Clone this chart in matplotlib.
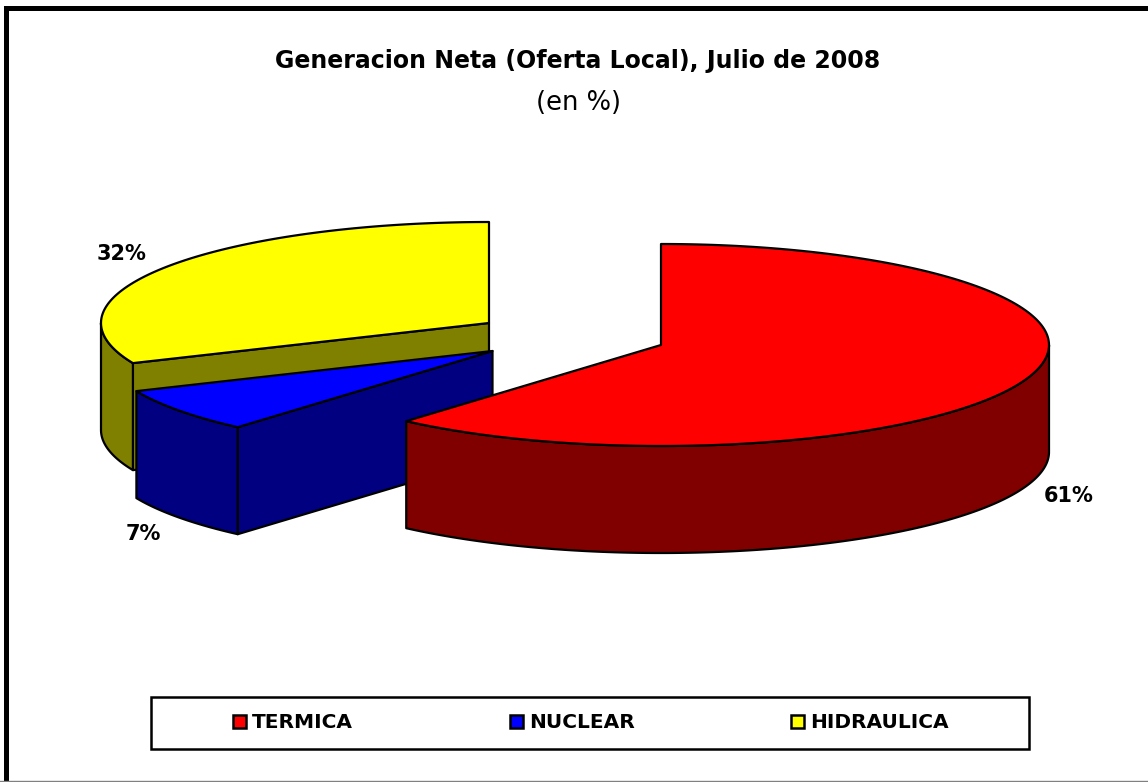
import numpy as np
import matplotlib
matplotlib.use('Agg')
import matplotlib.pyplot as plt
from matplotlib.patches import Polygon, Rectangle

categories = ['TERMICA', 'NUCLEAR', 'HIDRAULICA']
values = [61.4, 7.1, 31.5]
top_colors = ['#ff0000', '#0000ff', '#ffff00']
side_colors = ['#800000', '#000080', '#808000']

# pie geometry, in pixels of the 1148x782 picture
centers = [(661, 345), (492.5, 351), (489, 323)]
rx, ry, depth = 388, 101, 107
label_pos = [(1069, 496), (143, 534), (121, 254)]
z_order = {2: 2, 1: 3, 0: 4}

plt.rcParams['font.family'] = ['DejaVu Sans']

fig = plt.figure(figsize=(11.48, 7.82), dpi=100)
ax = fig.add_axes([0, 0, 1, 1])
ax.set_xlim(0, 1148)
ax.set_ylim(782, 0)
ax.axis('off')

# outer frame: heavy on the left and top, thin gray along the bottom
ax.plot([5.5, 5.5, 1148], [782, 7.5, 7.5], color='black', lw=3.6, solid_joinstyle='miter')
ax.plot([0, 1148], [781, 781], color='#808080', lw=1)


def rim(c, a, b):
    t = np.radians(np.linspace(a, b, 200))
    return np.column_stack([c[0] + rx * np.sin(t), c[1] - ry * np.cos(t)])


def wall(points, i):
    low = points + [0, depth]
    ax.add_patch(Polygon(np.vstack([points, low[::-1]]), fc=side_colors[i], ec='black', lw=1.6,
                         joinstyle='round', zorder=z_order[i]))


edges = np.cumsum([0] + values) * 3.6

for i in [2, 1, 0]:
    c = centers[i]
    a, b = edges[i], edges[i + 1]
    # cut face on the start side, only faces the viewer for these two
    if i > 0:
        wall(np.array([c, rim(c, a, a)[0]]), i)
    # outer wall, front half of the rim only
    wall(rim(c, max(a, 90), min(b, 270)), i)
    top = np.vstack([[c], rim(c, a, b)])
    ax.add_patch(Polygon(top, fc=top_colors[i], ec='black', lw=1.6, joinstyle='round', zorder=z_order[i]))
    ax.text(label_pos[i][0], label_pos[i][1], f'{values[i]:.0f}%', fontsize=15, fontweight='bold',
            ha='center', va='center', zorder=6)

ax.text(578, 61, 'Generacion Neta (Oferta Local), Julio de 2008', fontsize=17, fontweight='bold',
        ha='center', va='center')
ax.text(579, 103, '(en %)', fontsize=18.5, ha='center', va='center')

# legend
ax.add_patch(Rectangle((150.5, 696.5), 878, 52, fc='white', ec='black', lw=1.8))
legend_x = [232, 509, 790]
for x, name, col in zip(legend_x, categories, top_colors):
    ax.add_patch(Rectangle((x + 1, 715), 13, 13, fc=col, ec='black', lw=1.8))
    ax.text(x + 20, 722.5, name, fontsize=14.5, fontweight='bold', ha='left', va='center')

fig.savefig('out.png', dpi=100)
